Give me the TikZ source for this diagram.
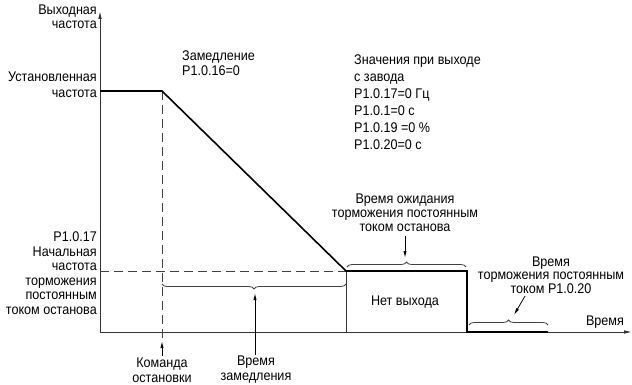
\documentclass[tikz,border=0pt]{standalone}
\usepackage{fontspec}
\setmainfont{Liberation Sans}[FakeStretch=0.9]
\usetikzlibrary{arrows.meta,decorations.pathreplacing}
\tikzset{
  lbl/.style={font=\fontsize{14}{15.5}\selectfont, inner sep=0pt, text=black},
  axisline/.style={draw=black!80, line width=0.9pt},
  outcurve/.style={draw=black, line width=1.6pt},
  dashline/.style={draw=black!75, line width=0.8pt, dash pattern=on 9pt off 5pt},
  thinline/.style={draw=black!80, line width=0.8pt},
  bracestyle/.style={draw=black!75, line width=0.8pt, decorate, decoration={brace, amplitude=5pt}},
  arr/.style={draw=black, line width=0.8pt, -{Latex[length=7pt,width=3.2pt]}},
}
\begin{document}
\begin{tikzpicture}[x=1pt,y=-1pt]
\useasboundingbox (0,0) rectangle (632,385);
% coordinates
\coordinate (O) at (100,332);
\coordinate (Ytop) at (100,11);
\coordinate (Xend) at (632,332);
\coordinate (S0) at (100,91);
\coordinate (S1) at (162,91);
\coordinate (S2) at (346,271);
\coordinate (S3) at (467,271);
\coordinate (S4) at (467,332);
\coordinate (S5) at (548,332);
\coordinate (D0) at (100,271);
\coordinate (Cbot) at (162,338);
\coordinate (Nbot) at (346,332);
% axes
\draw[axisline, -{Latex[length=8pt,width=3.5pt]}] (O) -- (Ytop);
\draw[axisline, -{Latex[length=8pt,width=3.5pt]}] (O) -- (Xend);
% dashed lines
\draw[dashline] (S1) -- (Cbot);
\draw[dashline] (D0) -- (S2);
% no-output box left edge
\draw[thinline] (S2) -- (Nbot);
% output curve
\draw[outcurve] (S0) -- (S1) -- (S2) -- (S3) -- (S4) -- (S5);
% braces
\coordinate (B1a) at (346,284);
\coordinate (B1b) at (162,284);
\draw[bracestyle] (B1a) -- (B1b);
\coordinate (B2a) at (347,267);
\coordinate (B2b) at (466,267);
\draw[bracestyle] (B2a) -- (B2b);
\coordinate (B3a) at (469,325);
\coordinate (B3b) at (548,325);
\draw[bracestyle] (B3a) -- (B3b);
% labels
\node[lbl, align=right, anchor=east, font=\fontsize{14}{14.5}\selectfont] (yl) at (97,17) {Выходная\\частота};
\node[lbl, align=right, anchor=east, font=\fontsize{14}{16}\selectfont] (setf) at (97,85) {Установленная\\частота};
\node[lbl, align=right, anchor=east, font=\fontsize{14}{14.5}\selectfont] (startf) at (97,273) {P1.0.17\\Начальная\\частота\\торможения\\постоянным\\током останова};
\node[lbl, align=left, anchor=west, font=\fontsize{14}{15}\selectfont] (dec) at (182,63.5) {Замедление\\P1.0.16=0};
\node[lbl, align=left, anchor=west, font=\fontsize{14}{17}\selectfont] (fact) at (354,102.5) {Значения при выходе\\с завода\\P1.0.17=0 Гц\\P1.0.1=0 с\\P1.0.19 =0 \%\\P1.0.20=0 с};
\node[lbl, align=center, font=\fontsize{14}{14}\selectfont] (wait) at (405,213) {Время ожидания\\торможения постоянным\\током останова};
\node[lbl, align=center, font=\fontsize{14}{13.5}\selectfont] (dcb) at (551,275) {Время\\торможения постоянным\\током P1.0.20};
\node[lbl] (tx) at (605,322) {Время};
\node[lbl, align=center, font=\fontsize{14}{15}\selectfont] (cmd) at (162,370) {Команда\\остановки};
\node[lbl, align=center, font=\fontsize{14}{15}\selectfont] (dtime) at (256,370) {Время\\замедления};
\node[lbl] (noout) at (405,302) {Нет выхода};
% arrows
\coordinate (A1s) at (162,356);
\coordinate (A1e) at (162,341);
\draw[arr] (A1s) -- (A1e);
\coordinate (A2s) at (255,355);
\coordinate (A2e) at (255,293);
\draw[arr] (A2s) -- (A2e);
\coordinate (A3s) at (405,236);
\coordinate (A3e) at (405,258);
\draw[arr] (A3s) -- (A3e);
\coordinate (A4s) at (525,296);
\coordinate (A4e) at (514,315);
\draw[arr] (A4s) -- (A4e);
\end{tikzpicture}
\end{document}
